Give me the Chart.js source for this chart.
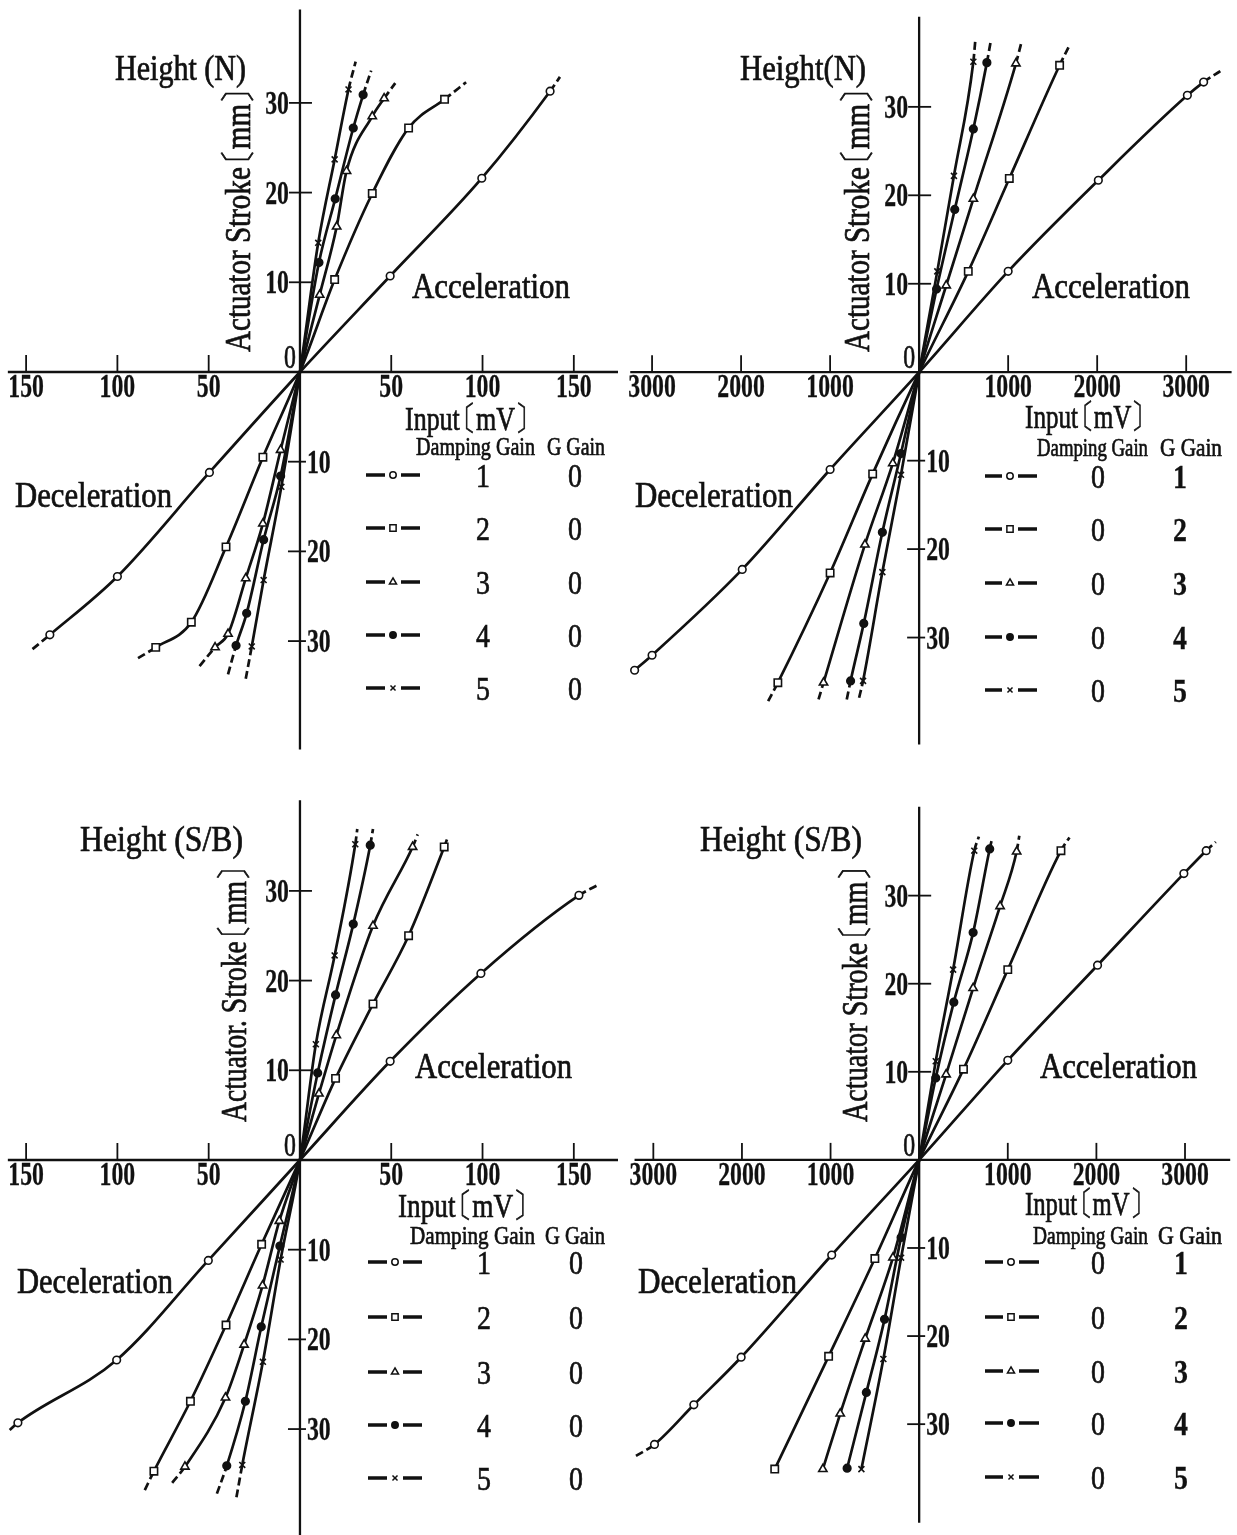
<!DOCTYPE html>
<html>
<head>
<meta charset="utf-8">
<title>Actuator stroke vs input</title>
<script src="https://cdn.jsdelivr.net/npm/chart.js@4.4.1/dist/chart.umd.min.js"></script>
<style>
  body { margin: 0; background: #fff; width: 1237px; height: 1535px; position: relative; overflow: hidden; }
  .panel { position: absolute; }
</style>
</head>
<body>
<div class="panel" style="left:0;top:0"><canvas id="chartNDamp" width="618" height="775"></canvas></div>
<div class="panel" style="left:618px;top:0"><canvas id="chartNG" width="619" height="775"></canvas></div>
<div class="panel" style="left:0;top:775px"><canvas id="chartSDamp" width="618" height="760"></canvas></div>
<div class="panel" style="left:618px;top:775px"><canvas id="chartSG" width="619" height="760"></canvas></div>
<script>
// tick values for the crossed axes
const mvTicks = [-150, -100, -50, 50, 100, 150];
const gTicks = [-3000, -2000, -1000, 1000, 2000, 3000];
const strokeTicks = [-30, -20, -10, 10, 20, 30];

// legend table values (damping gain / G gain for curves 1..5)
const gainSteps = ['1', '2', '3', '4', '5'];
const gainZero = ['0', '0', '0', '0', '0'];

// Height (N), damping gain 1..5 : [input mV, stroke mm] at the markers
const nD1 = [[-137, -29.3], [-100, -22.8], [-49.6, -11.2], [49.4, 10.7], [99.6, 21.6], [137, 31.3]];
const nD2 = [[-79, -30.7], [-59.5, -27.9], [-40.5, -19.5], [-20.3, -9.5], [19, 10.3], [39.6, 19.9], [59.5, 27.2], [79.2, 30.4]];
const nD3 = [[-46.5, -30.7], [-39.4, -29.2], [-29.7, -23], [-20.3, -16.9], [-10.6, -8.7], [10.8, 8.6], [20.1, 16.2], [25.5, 22.4], [39.6, 28.5], [46.1, 30.5]];
const nD4 = [[-35, -30.5], [-29.2, -26.9], [-19.9, -18.7], [-10.6, -11.6], [10.4, 12.2], [19.3, 19.3], [29.2, 27.2], [34.6, 30.9]];
const nD5 = [[-26.4, -30.6], [-19.9, -23.2], [-10.2, -12.8], [10, 14.4], [19, 23.7], [26.6, 31.5]];
// curve ends past the last markers [negative end, positive end]
const nD1Ends = [[-146.5, -30.9], [142.4, 32.9]];
const nD2Ends = [[-88.7, -31.9], [91, 32.3]];
const nD3Ends = [[-55, -32.8], [52.2, 32.2]];
const nD4Ends = [[-39.4, -33.7], [39, 33.6]];
const nD5Ends = [[-29.7, -34.2], [30.5, 34.6]];

// Height (N), G gain 1..5
const nG1 = [[-3196, -33.7], [-3000, -32], [-1987, -22.3], [-1000, -11], [1000, 11.4], [2013, 21.7], [3013, 31.3], [3196, 32.8]];
const nG2 = [[-1587, -35.1], [-1000, -22.7], [-522, -11.5], [552, 11.4], [1013, 21.9], [1578, 34.7]];
const nG3 = [[-1074, -35.1], [-609, -19.5], [-296, -10.3], [304, 9.8], [609, 19.6], [1087, 34.9]];
const nG4 = [[-770, -34.9], [-622, -28.4], [-413, -18.1], [-204, -9.2], [196, 9.4], [400, 18.4], [609, 27.5], [761, 35]];
const nG5 = [[-630, -34.9], [-413, -22.6], [-204, -11.6], [204, 11.4], [391, 22.2], [609, 35.1]];
const nG1Ends = [null, [3391, 34.1]];
const nG2Ends = [[-1696, -37.2], [1696, 37.1]];
const nG3Ends = [[-1130, -37], [1152, 37.4]];
const nG4Ends = [[-813, -37], [804, 37.4]];
const nG5Ends = [[-674, -36.8], [630, 37.4]];

// Height (S/B), damping gain 1..5
const sD1 = [[-154.5, -29.3], [-100.4, -22.3], [-50.2, -11.2], [49.4, 11], [99.1, 20.8], [152.8, 29.5]];
const sD2 = [[-80, -34.7], [-60, -26.9], [-40.5, -18.4], [-21, -9.4], [19.5, 9.1], [40, 17.4], [59.5, 25], [79, 34.9]];
const sD3 = [[-63, -34.2], [-40.8, -26.5], [-30.6, -20.6], [-20.5, -14], [-11.3, -6.8], [10.4, 7.4], [19.9, 13.9], [40, 26.1], [61.7, 34.9]];
const sD4 = [[-40.1, -34.1], [-29.9, -26.9], [-21.2, -18.6], [-11, -9.6], [9.7, 9.7], [19.5, 18.4], [29.2, 26.3], [38.5, 35.1]];
const sD5 = [[-31.6, -34], [-20.3, -22.5], [-10.6, -11.1], [8.7, 12.9], [19, 22.8], [30.3, 35.2]];
const sD1Ends = [[-159, -30.1], [163.6, 30.7]];
const sD2Ends = [[-85, -36.8], [81, 36]];
const sD3Ends = [[-70, -36], [64.5, 36.3]];
const sD4Ends = [[-45.5, -37.2], [40, 36.9]];
const sD5Ends = [[-34.8, -37.6], [31.4, 36.9]];

// Height (S/B), G gain 1..5
const sG1 = [[-2987, -32.3], [-2543, -27.8], [-2009, -22.4], [-987, -10.8], [1000, 11.3], [2013, 22.1], [2987, 32.5], [3239, 35.1]];
const sG2 = [[-1630, -35.1], [-1022, -22.3], [-500, -11.2], [500, 10.3], [1000, 21.6], [1600, 35.1]];
const sG3 = [[-1087, -35.1], [-891, -28.8], [-609, -20.3], [-296, -11.1], [304, 9.7], [609, 19.5], [913, 28.8], [1100, 35]];
const sG4 = [[-813, -35], [-596, -26.4], [-391, -18.1], [-204, -8.8], [187, 9.3], [391, 17.9], [609, 25.8], [796, 35.3]];
const sG5 = [[-652, -35.1], [-404, -22.6], [-204, -11.1], [187, 11.2], [383, 21.6], [622, 35.1]];
const sG1Ends = [[-3196, -33.6], [3348, 36.1]];
const sG2Ends = [null, [1696, 36.6]];
const sG3Ends = [null, [1130, 36.8]];
const sG4Ends = [null, [826, 36.6]];
const sG5Ends = [null, [674, 36.7]];

const INK = '#111';
const SERIF = '"Liberation Serif", "DejaVu Serif", serif';
const markerStyles = ['circle', 'rect', 'triangle', 'circle', 'crossRot'];
const markerFill = ['#fff', '#fff', '#fff', INK, INK];
const markerSize = [3.8, 5.2, 4.8, 3.8, 4.2];

// one curve: negative end, markers, origin, markers, positive end
function curve(pts, ends, k) {
  const data = [];
  if (ends[0]) data.push({ x: ends[0][0], y: ends[0][1], bare: true });
  pts.filter(p => p[0] < 0).forEach(p => data.push({ x: p[0], y: p[1] }));
  data.push({ x: 0, y: 0, bare: true });
  pts.filter(p => p[0] > 0).forEach(p => data.push({ x: p[0], y: p[1] }));
  if (ends[1]) data.push({ x: ends[1][0], y: ends[1][1], bare: true });
  const last = data.length - 1;
  return {
    data,
    showLine: true,
    borderColor: INK,
    borderWidth: 2.7,
    cubicInterpolationMode: 'monotone',
    pointStyle: markerStyles[k],
    pointRadius: c => (c.raw && c.raw.bare ? 0 : markerSize[k]),
    pointHoverRadius: 0,
    pointBackgroundColor: markerFill[k],
    pointBorderColor: INK,
    pointBorderWidth: 1.6,
    segment: {
      borderDash: s => ((ends[0] && s.p0DataIndex === 0) || (ends[1] && s.p1DataIndex === last)) ? [8, 4] : undefined
    }
  };
}

// split text into runs so the wide CJK brackets sit tight against the letters
function textRuns(ctx, text, size) {
  const trim = 0.38 * size;
  let x = 0;
  const runs = [];
  text.split(/([〔〕])/).filter(s => s).forEach(s => {
    const w = ctx.measureText(s).width;
    if (s === '〔') { x -= trim; runs.push({ s, x }); x += w; }
    else if (s === '〕') { runs.push({ s, x }); x += w - trim; }
    else { runs.push({ s, x }); x += w; }
  });
  return { runs, width: x };
}

// condensed serif text, optionally squeezed to a given width
function drawLabel(ctx, t) {
  ctx.save();
  ctx.font = `${t.weight || 'normal'} ${t.size}px ${SERIF}`;
  ctx.fillStyle = INK;
  ctx.strokeStyle = INK;
  ctx.lineWidth = t.weight === 'bold' ? 0.3 : 0.7;
  ctx.textBaseline = 'alphabetic';
  ctx.textAlign = 'left';
  const { runs, width } = textRuns(ctx, t.text, t.size);
  const sx = t.w ? t.w / width : (t.sx || 0.8);
  ctx.translate(t.x, t.y);
  if (t.rot) ctx.rotate(-Math.PI / 2);
  ctx.scale(sx, 1);
  const shift = t.align === 'center' ? -width / 2 : t.align === 'right' ? -width : 0;
  runs.forEach(r => {
    ctx.fillText(r.s, r.x + shift, 0);
    ctx.strokeText(r.s, r.x + shift, 0);
  });
  ctx.restore();
}

const crossedAxes = {
  id: 'crossedAxes',
  beforeDatasetsDraw(chart, args, o) {
    const { ctx } = chart;
    const xs = chart.scales.x, ys = chart.scales.y;
    const ox = xs.getPixelForValue(0), oy = ys.getPixelForValue(0);
    ctx.save();
    ctx.strokeStyle = INK;
    ctx.lineWidth = 2.3;
    ctx.beginPath();
    ctx.moveTo(xs.getPixelForValue(o.xLine[0]), oy);
    ctx.lineTo(xs.getPixelForValue(o.xLine[1]), oy);
    ctx.moveTo(ox, ys.getPixelForValue(o.yLine[0]));
    ctx.lineTo(ox, ys.getPixelForValue(o.yLine[1]));
    ctx.stroke();

    ctx.lineWidth = 1.8;
    o.xTicks.forEach(v => {
      const px = xs.getPixelForValue(v);
      ctx.beginPath();
      ctx.moveTo(px, oy);
      ctx.lineTo(px, oy - 17);
      ctx.stroke();
      drawLabel(ctx, { text: String(Math.abs(v)), x: px, y: oy + 25, size: 33, sx: 0.72, weight: 'bold', align: 'center' });
    });
    o.yTicks.forEach(v => {
      const py = ys.getPixelForValue(v);
      ctx.beginPath();
      if (v > 0) {
        ctx.moveTo(ox - 11, py);
        ctx.lineTo(ox + 12, py);
      } else {
        ctx.moveTo(ox - 12, py);
        ctx.lineTo(ox + 6, py);
      }
      ctx.stroke();
      drawLabel(ctx, {
        text: String(Math.abs(v)), x: v > 0 ? ox - 11 : ox + 7, y: py + 11,
        size: 33, sx: 0.72, weight: 'bold', align: v > 0 ? 'right' : 'left'
      });
    });
    drawLabel(ctx, { text: '0', x: ox - 4, y: oy - 4, size: 33, sx: 0.72, align: 'right' });
    ctx.restore();
  },
  afterDatasetsDraw(chart, args, o) {
    const { ctx } = chart;
    o.texts.forEach(t => drawLabel(ctx, t));

    // legend table: line sample with marker, damping gain, G gain
    const lg = o.legend;
    lg.rows.forEach((y, i) => {
      ctx.save();
      ctx.strokeStyle = INK;
      ctx.lineWidth = 3.4;
      ctx.beginPath();
      ctx.moveTo(lg.x0, y);
      ctx.lineTo(lg.mx - 8, y);
      ctx.moveTo(lg.mx + 8, y);
      ctx.lineTo(lg.x1, y);
      ctx.stroke();
      ctx.fillStyle = markerFill[i];
      ctx.lineWidth = 1.5;
      Chart.helpers.drawPoint(ctx, { pointStyle: markerStyles[i], radius: markerSize[i] * 0.85, borderWidth: 1.5, rotation: 0 }, lg.mx, y);
      ctx.restore();
      drawLabel(ctx, { text: lg.damp[i], x: lg.d1, y: y + 12, size: 34, sx: 0.82, align: 'center' });
      drawLabel(ctx, { text: lg.g[i], x: lg.d2, y: y + 12, size: 34, sx: 0.82, align: 'center', weight: lg.boldG ? 'bold' : 'normal' });
    });
  }
};

function panel(id, sets, xr, yr, decor) {
  new Chart(document.getElementById(id), {
    type: 'scatter',
    data: { datasets: sets },
    options: {
      responsive: false,
      animation: false,
      events: [],
      layout: { padding: 0 },
      scales: {
        x: { type: 'linear', min: xr[0], max: xr[1], display: false },
        y: { type: 'linear', min: yr[0], max: yr[1], display: false }
      },
      plugins: {
        legend: { display: false },
        tooltip: { enabled: false },
        crossedAxes: decor
      }
    },
    plugins: [crossedAxes]
  });
}

panel('chartNDamp',
  [curve(nD1, nD1Ends, 0), curve(nD2, nD2Ends, 1), curve(nD3, nD3Ends, 2), curve(nD4, nD4Ends, 3), curve(nD5, nD5Ends, 4)],
  [-164.3, 174.2], [-44.93, 41.47],
  {
    xTicks: mvTicks, yTicks: strokeTicks, xLine: [-160, 174.2], yLine: [40.4, -42.1],
    texts: [
      { text: 'Height (N)', x: 115, y: 80, size: 35, w: 131 },
      { text: 'Actuator Stroke〔mm〕', x: 250, y: 352, size: 36, w: 266, rot: true },
      { text: 'Acceleration', x: 412, y: 298, size: 35, w: 158 },
      { text: 'Deceleration', x: 15, y: 507, size: 35, w: 157 },
      { text: 'Input〔mV〕', x: 405, y: 430, size: 34, w: 126 },
      { text: 'Damping Gain', x: 416, y: 455, size: 25, w: 119 },
      { text: 'G Gain', x: 547, y: 455, size: 25, w: 58 }
    ],
    legend: { x0: 366, x1: 420, mx: 393, d1: 483, d2: 575, rows: [475, 528, 582, 635, 688], damp: gainSteps, g: gainZero, boldG: false }
  });

panel('chartNG',
  [curve(nG1, nG1Ends, 0), curve(nG2, nG2Ends, 1), curve(nG3, nG3Ends, 2), curve(nG4, nG4Ends, 3), curve(nG5, nG5Ends, 4)],
  [-3322, 3510], [-44.93, 41.47],
  {
    xTicks: gTicks, yTicks: strokeTicks, xLine: [-3245, 3510], yLine: [40.2, -42.1],
    texts: [
      { text: 'Height(N)', x: 122, y: 80, size: 35, w: 126 },
      { text: 'Actuator Stroke〔mm〕', x: 251, y: 352, size: 36, w: 266, rot: true },
      { text: 'Acceleration', x: 414, y: 298, size: 35, w: 158 },
      { text: 'Deceleration', x: 17, y: 507, size: 35, w: 158 },
      { text: 'Input〔mV〕', x: 407, y: 428, size: 34, w: 122 },
      { text: 'Damping Gain', x: 419, y: 456, size: 25, w: 111 },
      { text: 'G Gain', x: 542, y: 456, size: 25, w: 62 }
    ],
    legend: { x0: 367, x1: 419, mx: 392, d1: 480, d2: 562, rows: [476, 529, 583, 637, 690], damp: gainZero, g: gainSteps, boldG: true }
  });

panel('chartSDamp',
  [curve(sD1, sD1Ends, 0), curve(sD2, sD2Ends, 1), curve(sD3, sD3Ends, 2), curve(sD4, sD4Ends, 3), curve(sD5, sD5Ends, 4)],
  [-164.3, 174.2], [-41.81, 42.92],
  {
    xTicks: mvTicks, yTicks: strokeTicks, xLine: [-160, 174.2], yLine: [40.1, -41.81],
    texts: [
      { text: 'Height (S/B)', x: 80, y: 76, size: 35, w: 163 },
      { text: 'Actuator. Stroke〔mm〕', x: 246, y: 347, size: 36, w: 258, rot: true },
      { text: 'Acceleration', x: 415, y: 303, size: 35, w: 157 },
      { text: 'Deceleration', x: 17, y: 518, size: 35, w: 156 },
      { text: 'Input〔mV〕', x: 398, y: 442, size: 34, w: 132 },
      { text: 'Damping Gain', x: 410, y: 469, size: 25, w: 125 },
      { text: 'G Gain', x: 545, y: 469, size: 25, w: 60 }
    ],
    legend: { x0: 368, x1: 422, mx: 395, d1: 484, d2: 576, rows: [487, 542, 597, 650, 703], damp: gainSteps, g: gainZero, boldG: false }
  });

panel('chartSG',
  [curve(sG1, sG1Ends, 0), curve(sG2, sG2Ends, 1), curve(sG3, sG3Ends, 2), curve(sG4, sG4Ends, 3), curve(sG5, sG5Ends, 4)],
  [-3322, 3510], [-41.81, 42.92],
  {
    xTicks: gTicks, yTicks: strokeTicks, xLine: [-3212, 3510], yLine: [40.1, -41.2],
    texts: [
      { text: 'Height (S/B)', x: 82, y: 76, size: 35, w: 162 },
      { text: 'Actuator Stroke〔mm〕', x: 249, y: 347, size: 36, w: 258, rot: true },
      { text: 'Acceleration', x: 422, y: 303, size: 35, w: 157 },
      { text: 'Deceleration', x: 20, y: 518, size: 35, w: 159 },
      { text: 'Input〔mV〕', x: 407, y: 440, size: 34, w: 120 },
      { text: 'Damping Gain', x: 415, y: 469, size: 25, w: 115 },
      { text: 'G Gain', x: 540, y: 469, size: 25, w: 64 }
    ],
    legend: { x0: 367, x1: 421, mx: 393, d1: 480, d2: 563, rows: [487, 542, 596, 648, 702], damp: gainZero, g: gainSteps, boldG: true }
  });
</script>
</body>
</html>
